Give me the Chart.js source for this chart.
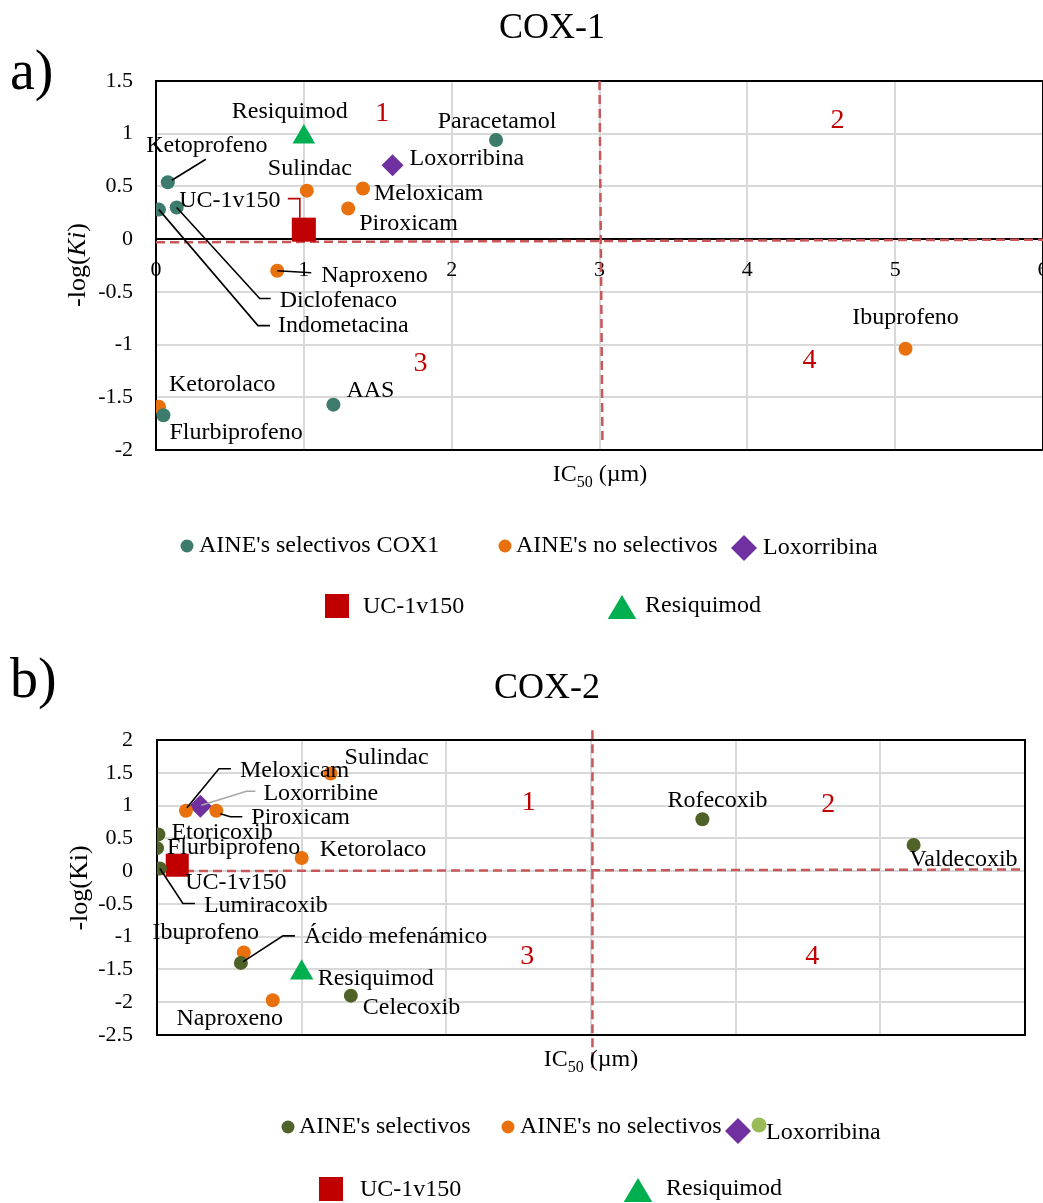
<!DOCTYPE html>
<html>
<head>
<meta charset="utf-8">
<script src="https://cdn.jsdelivr.net/npm/chart.js@4.4.1/dist/chart.umd.min.js"></script>
<style>
  body { margin: 0; background: #fff; }
  canvas { display: block; }
</style>
</head>
<body>
<canvas id="cox1" width="1043" height="640"></canvas>
<canvas id="cox2" width="1043" height="563"></canvas>
<script>
// ---- panel a) COX-1 ----
const c1SelNames = ['Paracetamol', 'Ketoprofeno', 'Diclofenaco', 'Indometacina', 'AAS', 'Flurbiprofeno'];
const c1SelX = [2.30, 0.08, 0.14, 0.02, 1.20, 0.05];
const c1SelY = [0.94, 0.54, 0.30, 0.28, -1.57, -1.67];
const c1NoSelNames = ['Sulindac', 'Meloxicam', 'Piroxicam', 'Naproxeno', 'Ibuprofeno', 'Ketorolaco'];
const c1NoSelX = [1.02, 1.40, 1.30, 0.82, 5.07, 0.02];
const c1NoSelY = [0.46, 0.48, 0.29, -0.30, -1.04, -1.59];
const c1LoxX = [1.60], c1LoxY = [0.70];
const c1UcX = [1.0], c1UcY = [0.09];
const c1ResX = [1.0], c1ResY = [0.97];
const c1QuadX = [1.53, 4.61, 1.79, 4.42];
const c1QuadY = [1.19, 1.12, -1.18, -1.15];
const c1HLineX = [0, 6], c1HLineY = [-0.03, -0.005];
const c1VLineX = [3.0, 3.02], c1VLineY = [1.5, -1.94];
const c1XTicks = [0, 1, 2, 3, 4, 5, 6];

// ---- panel b) COX-2 ----
const c2SelNames = ['Etoricoxib', 'Flurbiprofeno', 'Lumiracoxib', 'Ácido mefenámico', 'Celecoxib', 'Rofecoxib', 'Valdecoxib'];
const c2SelX = [0.01, 0.0, 0.02, 0.58, 1.34, 3.77, 5.23];
const c2SelY = [0.56, 0.35, 0.04, -1.40, -1.90, 0.79, 0.40];
const c2NoSelNames = ['Sulindac', 'Meloxicam', 'Piroxicam', 'Ketorolaco', 'Ibuprofeno', 'Naproxeno'];
const c2NoSelX = [1.20, 0.20, 0.41, 1.00, 0.60, 0.80];
const c2NoSelY = [1.49, 0.92, 0.92, 0.20, -1.24, -1.97];
const c2LoxX = [0.30], c2LoxY = [0.99];
const c2UcX = [0.14], c2UcY = [0.09];
const c2ResX = [1.0], c2ResY = [-1.55];
const c2QuadX = [2.57, 4.64, 2.56, 4.53];
const c2QuadY = [1.05, 1.01, -1.31, -1.31];
const c2HLineX = [0, 6], c2HLineY = [0, 0.025];
const c2VLineX = [3.01, 3.01], c2VLineY = [2.15, -3.0];

const quadLabels = ['1', '2', '3', '4'];

const FONT = "'Liberation Serif', 'Times New Roman', serif";
const TEAL = '#3D7B6C', OLIVE = '#4F6228', ORANGE = '#E8710E', PURPLE = '#7030A0';
const RED = '#C00000', GREEN = '#00B050', LIGHTGREEN = '#9BBB59', DASH = '#C8575A', GRID = '#D9D9D9';

const pts = (xs, ys) => xs.map((x, i) => ({x: x, y: ys[i]}));

function pointSet(label, names, data, style, radius, color) {
  return {label: label, names: names, data: data, pointStyle: style, pointRadius: radius,
    pointHoverRadius: radius, backgroundColor: color, borderColor: color, pointBorderWidth: 0, order: 0};
}
function dashSet(data, clip) {
  return {label: '', data: data, showLine: true, pointRadius: 0, borderColor: DASH, borderWidth: 2.5,
    borderDash: [9, 5], fill: false, order: 10, clip: clip};
}

function drawMarker(ctx, style, x, y, s, color) {
  ctx.fillStyle = color;
  ctx.beginPath();
  if (style === 'circle') ctx.arc(x, y, s, 0, Math.PI * 2);
  else if (style === 'rect') ctx.rect(x - s, y - s, 2 * s, 2 * s);
  else if (style === 'rectRot') { ctx.moveTo(x, y - s); ctx.lineTo(x + s, y); ctx.lineTo(x, y + s); ctx.lineTo(x - s, y); ctx.closePath(); }
  else if (style === 'triangle') { ctx.moveTo(x, y - s); ctx.lineTo(x + s * 1.1, y + s * 0.85); ctx.lineTo(x - s * 1.1, y + s * 0.85); ctx.closePath(); }
  ctx.fill();
}

function makeDecor(cfg) {
  return {
    id: 'decor',
    beforeDatasetsDraw(chart) {
      const a = chart.chartArea, ctx = chart.ctx;
      ctx.save();
      ctx.strokeStyle = '#000';
      ctx.lineWidth = 2;
      ctx.strokeRect(a.left, a.top, a.right - a.left, a.bottom - a.top);
      ctx.restore();
    },
    afterDatasetsDraw(chart) {
      const ctx = chart.ctx, sx = chart.scales.x, sy = chart.scales.y;
      ctx.save();
      ctx.font = '24px ' + FONT;
      ctx.textBaseline = 'middle';
      chart.data.datasets.forEach((ds, i) => {
        if (!ds.names) return;
        const meta = chart.getDatasetMeta(i);
        ds.names.forEach((name, j) => {
          const p = cfg.labels[name];
          const el = meta.data[j];
          if (!p || !el) return;
          if (p.lead) {
            ctx.strokeStyle = p.leadColor || '#000';
            ctx.lineWidth = 1.6;
            ctx.beginPath();
            p.lead.forEach((q, k) => {
              if (k === 0) ctx.moveTo(el.x + q[0], el.y + q[1]);
              else ctx.lineTo(el.x + q[0], el.y + q[1]);
            });
            ctx.stroke();
          }
          ctx.fillStyle = '#000';
          ctx.textAlign = p.align || 'left';
          ctx.fillText(name, el.x + p.dx, el.y + p.dy);
        });
      });
      // quadrant numbers
      ctx.font = '28px ' + FONT;
      ctx.fillStyle = RED;
      ctx.textAlign = 'center';
      quadLabels.forEach((t, k) => {
        ctx.fillText(t, sx.getPixelForValue(cfg.quadX[k]), sy.getPixelForValue(cfg.quadY[k]));
      });
      ctx.restore();
    },
    afterDraw(chart) {
      const ctx = chart.ctx;
      ctx.save();
      ctx.fillStyle = '#000';
      ctx.textBaseline = 'middle';
      // panel tag and title
      ctx.font = '56px ' + FONT;
      ctx.textAlign = 'left';
      ctx.fillText(cfg.tag, 10, cfg.tagY);
      ctx.font = '36px ' + FONT;
      ctx.textAlign = 'center';
      ctx.fillText(cfg.title, cfg.titleX, cfg.titleY);
      // y axis title
      ctx.save();
      ctx.translate(cfg.yTitleX, cfg.yTitleY);
      ctx.rotate(-Math.PI / 2);
      let total = 0;
      cfg.yTitle.forEach(p => {
        ctx.font = (p.it ? 'italic ' : '') + '26px ' + FONT;
        p.w = ctx.measureText(p.t).width;
        total += p.w;
      });
      let x = -total / 2;
      ctx.textAlign = 'left';
      cfg.yTitle.forEach(p => {
        ctx.font = (p.it ? 'italic ' : '') + '26px ' + FONT;
        ctx.fillText(p.t, x, 0);
        x += p.w;
      });
      ctx.restore();
      // x axis title: IC50 (µm)
      ctx.textBaseline = 'alphabetic';
      ctx.textAlign = 'left';
      ctx.font = '24px ' + FONT;
      const w1 = ctx.measureText('IC').width, w3 = ctx.measureText(' (µm)').width;
      ctx.font = '16px ' + FONT;
      const w2 = ctx.measureText('50').width;
      let xs = cfg.xTitleX - (w1 + w2 + w3) / 2;
      ctx.font = '24px ' + FONT;
      ctx.fillText('IC', xs, cfg.xTitleY);
      ctx.font = '16px ' + FONT;
      ctx.fillText('50', xs + w1, cfg.xTitleY + 6);
      ctx.font = '24px ' + FONT;
      ctx.fillText(' (µm)', xs + w1 + w2, cfg.xTitleY);
      // legend
      ctx.textBaseline = 'middle';
      cfg.legend.forEach(it => {
        const ds = chart.data.datasets[it.ds];
        drawMarker(ctx, ds.pointStyle, it.mx, it.my, it.size, ds.backgroundColor);
        if (it.tx !== undefined) {
          ctx.fillStyle = '#000';
          ctx.font = '24px ' + FONT;
          ctx.fillText(ds.label, it.tx, it.ty);
        }
      });
      ctx.restore();
    }
  };
}

function tickFont() { return {family: FONT, size: 22}; }

// ---------- chart a ----------
new Chart(document.getElementById('cox1'), {
  type: 'scatter',
  data: {
    datasets: [
      pointSet("AINE's selectivos COX1", c1SelNames, pts(c1SelX, c1SelY), 'circle', 7, TEAL),
      pointSet("AINE's no selectivos", c1NoSelNames, pts(c1NoSelX, c1NoSelY), 'circle', 7, ORANGE),
      pointSet('Loxorribina', ['Loxorribina'], pts(c1LoxX, c1LoxY), 'rectRot', 11, PURPLE),
      pointSet('UC-1v150', ['UC-1v150'], pts(c1UcX, c1UcY), 'rect', 17, RED),
      pointSet('Resiquimod', ['Resiquimod'], pts(c1ResX, c1ResY), 'triangle', 13, GREEN),
      dashSet(pts(c1HLineX, c1HLineY), true),
      dashSet(pts(c1VLineX, c1VLineY), false)
    ]
  },
  options: {
    responsive: false,
    animation: false,
    layout: {autoPadding: false, padding: {top: 81, bottom: 190, left: 0, right: 0}},
    plugins: {legend: {display: false}, tooltip: {enabled: false}},
    scales: {
      x: {
        type: 'linear', min: 0, max: 6, position: {y: 0},
        afterBuildTicks: s => { s.ticks = c1XTicks.map(v => ({value: v})); },
        afterFit: s => { s.paddingLeft = 0; s.paddingRight = 0; },
        ticks: {font: tickFont(), color: '#000', padding: 18, maxRotation: 0},
        grid: {color: GRID, lineWidth: 2, drawTicks: false},
        border: {color: '#000', width: 2}
      },
      y: {
        type: 'linear', min: -2, max: 1.5,
        afterFit: s => { s.width = 156; s.paddingTop = 0; s.paddingBottom = 0; },
        ticks: {stepSize: 0.5, font: tickFont(), color: '#000', padding: 23, callback: v => String(+v.toFixed(1))},
        grid: {color: GRID, lineWidth: 2, drawTicks: false},
        border: {color: '#000', width: 2}
      }
    }
  },
  plugins: [makeDecor({
    tag: 'a)', tagY: 74, title: 'COX-1', titleX: 552, titleY: 29,
    yTitle: [{t: '-log('}, {t: 'Ki', it: true}, {t: ')'}], yTitleX: 78, yTitleY: 265,
    xTitleX: 600, xTitleY: 481,
    quadX: c1QuadX, quadY: c1QuadY,
    labels: {
      'Resiquimod': {align: 'center', dx: -14, dy: -25},
      'Paracetamol': {align: 'center', dx: 1, dy: -18},
      'Loxorribina': {dx: 17, dy: -7},
      'Ketoprofeno': {align: 'center', dx: 39, dy: -37, lead: [[4, -2], [38, -23]]},
      'Sulindac': {align: 'center', dx: 3, dy: -22},
      'Meloxicam': {dx: 11, dy: 5},
      'Piroxicam': {dx: 11, dy: 15},
      'UC-1v150': {align: 'center', dx: -74, dy: -29, lead: [[-16, -31], [-4, -31], [-4, -12]], leadColor: RED},
      'Diclofenaco': {dx: 103, dy: 93, lead: [[0, 0], [83, 91], [94, 91]]},
      'Indometacina': {dx: 119, dy: 116, lead: [[0, 0], [99, 116], [111, 116]]},
      'Naproxeno': {dx: 44, dy: 5, lead: [[0, 0], [34, 2]]},
      'Ibuprofeno': {align: 'center', dx: 0, dy: -31},
      'AAS': {align: 'center', dx: 37, dy: -14},
      'Ketorolaco': {dx: 10, dy: -22},
      'Flurbiprofeno': {dx: 6, dy: 17}
    },
    legend: [
      {ds: 0, mx: 187, my: 546, size: 6.5, tx: 199, ty: 546},
      {ds: 1, mx: 505, my: 546, size: 6.5, tx: 516, ty: 546},
      {ds: 2, mx: 744, my: 548, size: 13, tx: 763, ty: 548},
      {ds: 3, mx: 337, my: 606, size: 12, tx: 363, ty: 607},
      {ds: 4, mx: 622, my: 608, size: 13, tx: 645, ty: 606}
    ]
  })]
});

// ---------- chart b ----------
new Chart(document.getElementById('cox2'), {
  type: 'scatter',
  data: {
    datasets: [
      pointSet("AINE's selectivos", c2SelNames, pts(c2SelX, c2SelY), 'circle', 7, OLIVE),
      pointSet("AINE's no selectivos", c2NoSelNames, pts(c2NoSelX, c2NoSelY), 'circle', 7, ORANGE),
      pointSet('Loxorribine', ['Loxorribine'], pts(c2LoxX, c2LoxY), 'rectRot', 11.5, PURPLE),
      pointSet('Loxorribina', [], [], 'circle', 7, LIGHTGREEN),
      pointSet('UC-1v150', ['UC-1v150'], pts(c2UcX, c2UcY), 'rect', 16.3, RED),
      pointSet('Resiquimod', ['Resiquimod'], pts(c2ResX, c2ResY), 'triangle', 13.5, GREEN),
      dashSet(pts(c2HLineX, c2HLineY), true),
      dashSet(pts(c2VLineX, c2VLineY), false)
    ]
  },
  options: {
    responsive: false,
    animation: false,
    layout: {autoPadding: false, padding: {top: 100, bottom: 168, left: 0, right: 18}},
    plugins: {legend: {display: false}, tooltip: {enabled: false}},
    scales: {
      x: {
        type: 'linear', min: 0, max: 6, position: 'bottom',
        afterFit: s => { s.height = 0; s.paddingLeft = 0; s.paddingRight = 0; },
        ticks: {display: false, stepSize: 1},
        grid: {color: GRID, lineWidth: 2, drawTicks: false},
        border: {display: false}
      },
      y: {
        type: 'linear', min: -2.5, max: 2,
        afterFit: s => { s.width = 157; s.paddingTop = 0; s.paddingBottom = 0; },
        ticks: {stepSize: 0.5, font: tickFont(), color: '#000', padding: 24, callback: v => String(+v.toFixed(1))},
        grid: {color: GRID, lineWidth: 2, drawTicks: false},
        border: {color: '#000', width: 2}
      }
    }
  },
  plugins: [makeDecor({
    tag: 'b)', tagY: 42, title: 'COX-2', titleX: 547, titleY: 49,
    yTitle: [{t: '-log(Ki)'}], yTitleX: 80, yTitleY: 248,
    xTitleX: 591, xTitleY: 426,
    quadX: c2QuadX, quadY: c2QuadY,
    labels: {
      'Sulindac': {dx: 14, dy: -16},
      'Meloxicam': {dx: 54, dy: -40, lead: [[1, -3], [33, -42], [45, -42]]},
      'Loxorribine': {dx: 63, dy: -13, lead: [[1, -1], [46, -15], [55, -15]], leadColor: '#A6A6A6'},
      'Piroxicam': {dx: 35, dy: 7, lead: [[4, 3], [14, 6], [26, 6]]},
      'Etoricoxib': {dx: 13, dy: -2},
      'Flurbiprofeno': {dx: 10, dy: 0},
      'Ketorolaco': {dx: 18, dy: -8},
      'UC-1v150': {dx: 8, dy: 17},
      'Lumiracoxib': {dx: 44, dy: 37, lead: [[0, 0], [23, 35], [35, 35]]},
      'Ibuprofeno': {align: 'center', dx: -38, dy: -20},
      'Ácido mefenámico': {dx: 63, dy: -26, lead: [[2, -1], [42, -27], [54, -27]]},
      'Resiquimod': {dx: 16, dy: 6},
      'Naproxeno': {align: 'center', dx: -43, dy: 18},
      'Celecoxib': {dx: 12, dy: 12},
      'Rofecoxib': {align: 'center', dx: 15, dy: -19},
      'Valdecoxib': {dx: -4, dy: 15}
    },
    legend: [
      {ds: 0, mx: 288, my: 487, size: 6.5, tx: 299, ty: 487},
      {ds: 1, mx: 508, my: 487, size: 6.5, tx: 520, ty: 487},
      {ds: 2, mx: 738, my: 491, size: 13},
      {ds: 3, mx: 759, my: 485, size: 7.5, tx: 766, ty: 493},
      {ds: 4, mx: 331, my: 549, size: 12, tx: 360, ty: 550},
      {ds: 5, mx: 638, my: 551, size: 13, tx: 666, ty: 549}
    ]
  })]
});
</script>
</body>
</html>
